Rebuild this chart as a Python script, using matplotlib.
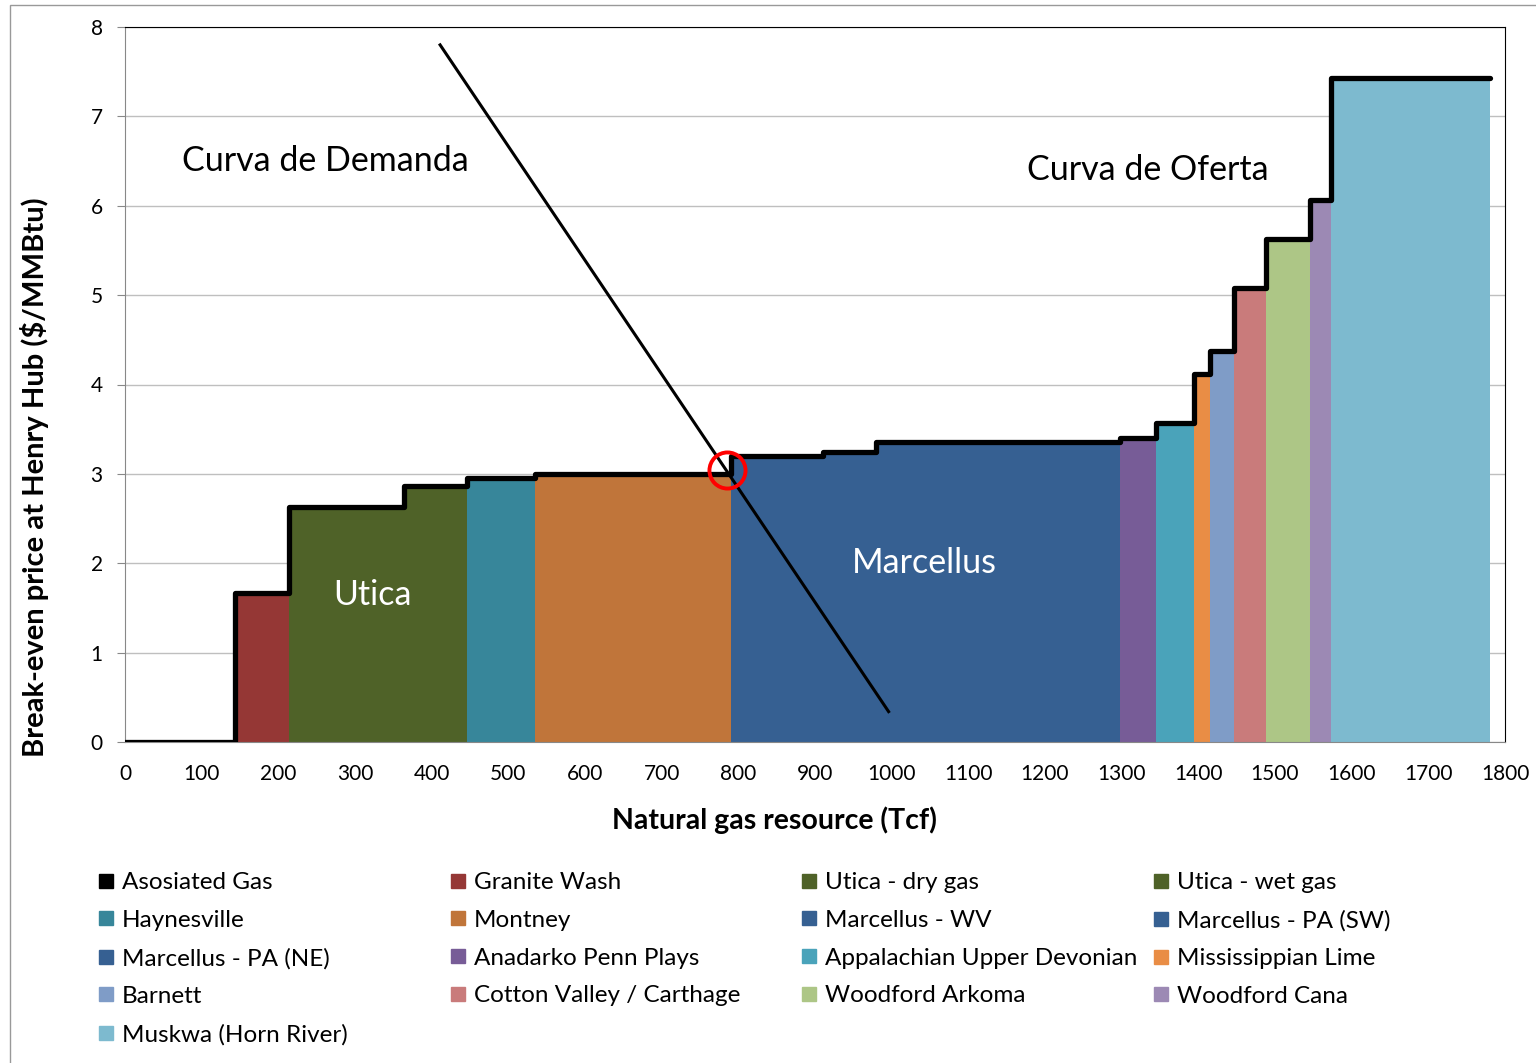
import numpy as np
import matplotlib
matplotlib.use('Agg')
import matplotlib.pyplot as plt
from matplotlib.lines import Line2D
from matplotlib.patches import Rectangle

plt.rcParams['font.family'] = ['Lato', 'DejaVu Sans']

# supply curve: resource boundaries (Tcf) and break-even price ($/MMBtu)
plays = ['Asosiated Gas', 'Granite Wash', 'Utica - dry gas', 'Utica - wet gas',
         'Haynesville', 'Montney', 'Marcellus - WV', 'Marcellus - PA (SW)',
         'Marcellus - PA (NE)', 'Anadarko Penn Plays', 'Appalachian Upper Devonian',
         'Mississippian Lime', 'Barnett', 'Cotton Valley / Carthage',
         'Woodford Arkoma', 'Woodford Cana', 'Muskwa (Horn River)']
edges = [0, 143, 214, 364, 446, 535, 790, 910, 980, 1298, 1345, 1394, 1415,
         1446, 1488, 1546, 1573, 1781]
prices = [0, 1.67, 2.63, 2.86, 2.95, 3.00, 3.20, 3.24, 3.36, 3.40, 3.57,
          4.12, 4.38, 5.08, 5.63, 6.06, 7.43]
colors = ['#000000', '#953735', '#4F6228', '#4F6228', '#37869A', '#C0753A',
          '#366092', '#366092', '#366092', '#775C97', '#4AA3BA', '#E98D45',
          '#7F9CC7', '#C97B7B', '#ADC686', '#9C89B4', '#7DBACF']

# demand curve end points and equilibrium
demand_x = [411, 996]
demand_y = [7.80, 0.34]
eq_x, eq_y = 785, 3.04

fig = plt.figure(figsize=(15.36, 10.63), dpi=100)
ax = fig.add_axes([125/1536, 1-742/1063, 1380/1536, 715/1063])

widths = np.diff(edges)
ax.bar(edges[:-1], prices, width=widths, align='edge', color=colors,
       linewidth=0, zorder=2)
st = ax.stairs(prices, edges, baseline=None, color='black', linewidth=3.8,
               zorder=3)
st.set_joinstyle('round')
st.set_capstyle('round')

ax.plot(demand_x, demand_y, color='black', linewidth=2.2, zorder=4)
ax.plot([eq_x], [eq_y], marker='o', markersize=26, markerfacecolor='none',
        markeredgecolor='red', markeredgewidth=2.8, zorder=5)

ax.set_xlim(0, 1800)
ax.set_ylim(0, 8)
ax.set_xticks(np.arange(0, 1801, 100))
ax.set_yticks(np.arange(0, 9, 1))
ax.yaxis.grid(True, color='#BFBFBF', linewidth=1, zorder=0)
ax.set_axisbelow(True)
ax.tick_params(axis='x', length=0, pad=15.5, labelsize=15)
ax.tick_params(axis='y', length=6, color='#888888', direction='out', pad=10,
               labelsize=15)
for s in ['left', 'bottom']:
    ax.spines[s].set_color('#888888')
for s in ['top', 'right']:
    ax.spines[s].set_color('black')

fig.text(774/1536, 1-820/1063, 'Natural gas resource (Tcf)', fontsize=20.5,
         fontweight='bold', ha='center', va='center')
fig.text(35/1536, 1-477/1063, 'Break-even price at Henry Hub ($/MMBtu)',
         fontsize=21, fontweight='bold', ha='center', va='center',
         rotation=90)

ax.text(75, 6.5, 'Curva de Demanda', fontsize=24.5, va='center', ha='left')
ax.text(1176, 6.4, 'Curva de Oferta', fontsize=24.5, va='center', ha='left')
ax.text(323, 1.64, 'Utica', fontsize=24.5, color='white', va='center',
        ha='center')
ax.text(1043, 2.0, 'Marcellus', fontsize=24.5, color='white', va='center',
        ha='center')

# legend: 4 equally spaced columns, filled row by row
col_x = [97, 449, 800, 1152]
for c in range(4):
    idx = list(range(c, len(plays), 4))
    handles = [Line2D([], [], marker='s', linestyle='none', markersize=10,
                      markerfacecolor=colors[i], markeredgecolor=colors[i])
               for i in idx]
    fig.legend(handles, [plays[i] for i in idx], loc='upper left',
               bbox_to_anchor=(col_x[c]/1536, 1-872/1063), frameon=False,
               fontsize=17.5, borderpad=0, borderaxespad=0, handlelength=0.75,
               handletextpad=0.27, labelspacing=0.69)

fig.patches.append(Rectangle((10/1536, -0.1), 1.2, 1.1-5/1063,
                             transform=fig.transFigure, fill=False,
                             edgecolor='#999999', linewidth=1))

fig.savefig('out.png', dpi=100)
